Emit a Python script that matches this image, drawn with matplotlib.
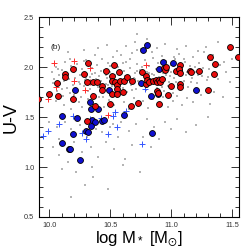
import matplotlib
matplotlib.use("Agg")
import matplotlib.pyplot as plt
from matplotlib.ticker import MultipleLocator

plt.rcParams['font.family'] = ['Liberation Sans', 'DejaVu Sans']
plt.rcParams['mathtext.fontset'] = 'custom'
plt.rcParams['mathtext.rm'] = 'Liberation Sans'
plt.rcParams['mathtext.it'] = 'Liberation Sans'
plt.rcParams['mathtext.fallback'] = 'stixsans'

# ---- data ----
red_x = [9.91, 10.00, 10.06, 10.07, 10.13, 10.13, 10.19, 10.19, 10.28, 10.32, 10.31, 10.36,
         10.39, 10.36, 10.37, 10.31, 10.43, 10.43, 10.46, 10.51, 10.51, 10.50, 10.51, 10.53,
         10.54, 10.55, 10.55, 10.55, 10.57, 10.58, 10.60, 10.61, 10.64, 10.68, 10.67, 10.73,
         10.76, 10.79, 10.79, 10.80, 10.82, 10.85, 10.87, 10.88, 10.90, 10.91, 10.92, 10.88,
         10.89, 10.90, 10.94, 10.95, 10.96, 10.97, 11.00, 11.04, 11.07, 11.06, 11.07, 11.07,
         11.07, 11.15, 11.16, 11.23, 11.30, 11.32, 11.35, 11.36, 11.48, 11.55]
red_y = [1.68, 1.73, 1.84, 1.71, 1.93, 1.90, 1.98, 1.68, 1.93, 2.04, 1.85, 1.85,
         1.85, 1.71, 1.61, 1.46, 1.81, 1.77, 1.96, 1.91, 1.86, 1.63, 1.73, 2.02,
         1.85, 1.82, 1.78, 1.73, 1.95, 1.86, 1.75, 1.86, 1.90, 1.86, 1.61, 1.64,
         1.95, 1.91, 1.83, 1.87, 1.85, 1.86, 1.87, 1.85, 1.87, 1.85, 1.88, 1.76,
         1.74, 1.63, 1.99, 1.97, 2.00, 1.72, 1.81, 1.96, 2.02, 1.98, 1.94, 1.83,
         1.80, 1.96, 1.95, 1.96, 1.77, 2.10, 1.93, 2.03, 2.20, 2.10]

blue_x = [10.80, 10.77, 10.93, 11.01, 10.90, 11.06, 10.21, 10.49, 10.75, 10.82, 10.83, 10.89,
          11.20, 10.33, 10.34, 10.40, 10.10, 10.23, 10.30, 10.32, 10.19, 10.10, 10.16, 10.17,
          10.25, 10.35, 10.37, 10.43, 10.45, 10.61, 10.84, 10.34]
blue_y = [2.22, 2.17, 2.05, 2.04, 1.98, 1.97, 1.77, 1.77, 1.84, 1.86, 1.71, 1.73,
          1.77, 1.65, 1.58, 1.58, 1.51, 1.49, 1.36, 1.35, 1.33, 1.24, 1.18, 1.18,
          1.07, 1.47, 1.45, 1.46, 1.47, 1.52, 1.34, 1.41]

redp_x = [10.04, 10.20, 10.33, 10.20, 10.33, 10.05, 9.99, 10.19, 10.29, 10.48, 10.79]
redp_y = [2.04, 2.06, 1.99, 1.86, 1.85, 1.80, 1.68, 1.69, 1.77, 1.52, 2.02]

bluep_x = [9.95, 9.99, 10.08, 10.19, 10.33, 10.27, 10.30, 10.42, 10.48, 10.52, 10.54, 10.55,
           10.63, 10.76, 10.78]
bluep_y = [1.31, 1.36, 1.43, 1.51, 1.48, 1.34, 1.28, 1.49, 1.33, 1.51, 1.55, 1.40,
           1.56, 1.23, 1.78]

grey_x = [10.02, 10.04, 10.05, 10.06, 10.08, 10.09, 10.10, 10.11, 10.12, 10.13, 10.14, 10.15,
          10.16, 10.17, 10.18, 10.19, 10.20, 10.21, 10.22, 10.23, 10.24, 10.25, 10.26, 10.27,
          10.28, 10.29, 10.30, 10.31, 10.32, 10.33, 10.34, 10.35, 10.36, 10.37, 10.38, 10.39,
          10.40, 10.41, 10.42, 10.43, 10.44, 10.45, 10.46, 10.47, 10.48, 10.49, 10.50, 10.51,
          10.52, 10.53, 10.54, 10.55, 10.56, 10.57, 10.58, 10.59, 10.60, 10.61, 10.62, 10.63,
          10.64, 10.65, 10.66, 10.67, 10.68, 10.69, 10.70, 10.71, 10.72, 10.73, 10.74, 10.75,
          10.76, 10.77, 10.78, 10.79, 10.80, 10.81, 10.82, 10.83, 10.84, 10.85, 10.86, 10.87,
          10.88, 10.89, 10.90, 10.91, 10.92, 10.93, 10.94, 10.95, 10.96, 10.97, 10.98, 10.99,
          11.00, 11.01, 11.02, 11.03, 11.04, 11.05, 11.06, 11.08, 11.09, 11.10, 11.11, 11.12,
          11.14, 11.15, 11.17, 11.18, 11.20, 11.21, 11.23, 11.25, 11.27, 11.29, 11.31, 11.33,
          11.36, 11.40, 11.45,
          10.03, 10.07, 10.10, 10.14, 10.17, 10.20, 10.22, 10.25, 10.28, 10.30, 10.33, 10.35,
          10.37, 10.40, 10.42, 10.44, 10.46, 10.48, 10.50, 10.52, 10.54, 10.56, 10.58, 10.60,
          10.62, 10.64, 10.66, 10.68, 10.70, 10.72, 10.74, 10.76, 10.78, 10.80, 10.82, 10.84,
          10.86, 10.88, 10.90, 10.92, 10.94, 10.96, 10.98, 11.00, 11.02, 11.04, 11.06, 11.08,
          11.10, 11.13, 11.16, 11.19, 11.22, 11.26, 11.30, 11.34, 11.38, 11.43,
          10.05, 10.12, 10.18, 10.24, 10.27, 10.32, 10.38, 10.41, 10.45, 10.49, 10.53, 10.57,
          10.61, 10.65, 10.69, 10.73, 10.77, 10.81, 10.85, 10.89, 10.93, 10.97, 11.01, 11.05,
          11.09, 11.13, 11.18, 11.24, 11.32, 11.42,
          10.15, 10.28, 10.40, 10.47, 10.55, 10.63, 10.70, 10.72, 10.80, 10.88, 10.95, 11.05,
          11.12, 11.22, 11.28, 11.38, 11.50, 11.35, 11.48, 10.72,
          10.00, 10.06, 10.03, 10.08, 10.13, 10.15, 10.18, 10.20, 10.22, 10.25, 10.27, 10.29,
          10.31, 10.34, 10.36, 10.38, 10.40, 10.43, 10.46, 10.48, 10.50, 10.53, 10.56, 10.59,
          10.62, 10.65, 10.68, 10.71, 10.74, 10.77, 10.80, 10.83, 10.86, 10.90, 10.95, 11.00,
          11.05, 11.12, 11.20, 11.30, 10.10, 10.18, 10.35, 10.60, 10.08, 10.42, 10.52]
grey_y = [1.95, 1.88, 2.00, 1.76, 1.92, 1.83, 1.97, 1.71, 1.86, 2.05, 1.79, 1.93,
          1.88, 1.74, 2.01, 1.82, 1.95, 1.89, 1.78, 2.03, 1.85, 1.92, 1.70, 1.98,
          1.81, 1.87, 2.07, 1.93, 1.76, 1.90, 1.84, 1.99, 1.73, 1.94, 1.88, 2.02,
          1.80, 1.91, 1.86, 2.08, 1.77, 1.97, 1.83, 1.89, 2.04, 1.74, 1.95, 1.81,
          2.10, 1.88, 1.92, 1.70, 2.00, 1.84, 1.93, 2.12, 1.79, 1.96, 1.87, 2.05,
          1.75, 1.91, 1.99, 1.82, 2.14, 1.89, 1.94, 1.78, 2.03, 1.86, 1.97, 2.18,
          1.81, 1.92, 2.07, 1.77, 1.95, 1.88, 2.01, 1.72, 1.93, 2.09, 1.84, 1.98,
          1.79, 2.04, 1.90, 1.83, 2.11, 1.94, 1.76, 1.88, 2.06, 1.81, 1.97, 1.91,
          2.02, 1.74, 1.89, 2.08, 1.85, 1.93, 2.13, 1.78, 1.99, 1.86, 2.05, 1.92,
          1.80, 2.01, 1.89, 2.10, 1.95, 1.84, 2.04, 1.91, 2.15, 1.87, 1.98, 2.07,
          1.93, 2.02, 1.95,
          1.84, 1.98, 1.78, 1.90, 2.08, 1.72, 1.99, 1.83, 2.06, 1.89, 1.78, 1.93,
          2.12, 1.85, 1.96, 1.70, 1.92, 1.82, 2.01, 1.87, 1.78, 1.94, 1.83, 2.04,
          1.91, 1.86, 2.08, 1.77, 1.88, 1.96, 1.83, 2.00, 1.90, 1.80, 1.94, 2.15,
          1.92, 1.86, 1.97, 1.80, 2.01, 1.92, 1.85, 1.95, 2.10, 1.96, 1.83, 1.93,
          2.08, 1.95, 1.85, 2.00, 1.92, 1.99, 1.90, 2.12, 1.88, 2.05,
          1.66, 1.62, 1.58, 1.65, 1.60, 1.68, 1.63, 1.70, 1.60, 1.67, 1.62, 1.71,
          1.65, 1.58, 1.69, 1.61, 1.66, 1.59, 1.68, 1.64, 1.70, 1.60, 1.66, 1.71,
          1.62, 1.69, 1.65, 1.72, 1.63, 1.70,
          2.15, 2.17, 2.19, 2.22, 2.16, 2.21, 2.25, 2.17, 2.28, 2.19, 2.23, 2.18,
          2.21, 2.16, 2.20, 2.25, 2.08, 1.75, 1.85, 2.33,
          1.45, 1.40, 1.20, 1.28, 1.45, 1.05, 1.38, 1.25, 0.95, 1.42, 1.15, 0.82,
          1.30, 1.20, 0.90, 1.38, 1.10, 1.35, 1.25, 0.78, 1.40, 1.18, 1.30, 1.45,
          1.08, 1.36, 1.22, 1.43, 0.95, 1.30, 1.48, 1.20, 1.40, 1.28, 1.45, 1.38,
          1.48, 1.35, 1.42, 1.50, 0.98, 0.70, 1.00, 1.02, 1.12, 1.47, 1.43]

panel_label = "(b)"

fig = plt.figure(figsize=(2.49, 2.49), dpi=100)
ax = fig.add_axes([0.157, 0.129, 0.803, 0.801])

ax.scatter(grey_x, grey_y, s=1.0, c='#b4b4b4', marker='s', linewidths=0, zorder=1)
ax.scatter(redp_x, redp_y, s=18, c='#ff2a2a', marker='+', linewidths=0.7, zorder=2)
ax.scatter(bluep_x, bluep_y, s=18, c='#3355ff', marker='+', linewidths=0.7, zorder=2)
ax.scatter(blue_x, blue_y, s=18, c='#1010d0', edgecolors='black', linewidths=0.6, zorder=3)
ax.scatter(red_x, red_y, s=18, c='#e80c0c', edgecolors='black', linewidths=0.6, zorder=4)

ax.set_xlim(9.915, 11.555)
ax.set_ylim(0.5, 2.5)
ax.xaxis.set_major_locator(MultipleLocator(0.5))
ax.xaxis.set_minor_locator(MultipleLocator(0.1))
ax.yaxis.set_major_locator(MultipleLocator(0.5))
ax.yaxis.set_minor_locator(MultipleLocator(0.1))
ax.tick_params(which='both', direction='in', top=True, right=True, labelsize=5.3,
               width=0.7, colors='#333333')
ax.tick_params(which='major', length=6, pad=3.5)
ax.tick_params(which='minor', length=3)
ax.xaxis.set_major_formatter(matplotlib.ticker.FormatStrFormatter('%.1f'))
ax.yaxis.set_major_formatter(matplotlib.ticker.FormatStrFormatter('%.1f'))
for sp in ax.spines.values():
    sp.set_linewidth(0.8)

ax.text(10.01, 2.2, panel_label, fontsize=6, color='#222222', va='center', ha='left')
ax.set_xlabel(r'log M$_*$ [M$_{\odot}$]', fontsize=12, labelpad=1)
ax.set_ylabel('U-V', fontsize=13, labelpad=3)

fig.savefig('out.png', dpi=100)
